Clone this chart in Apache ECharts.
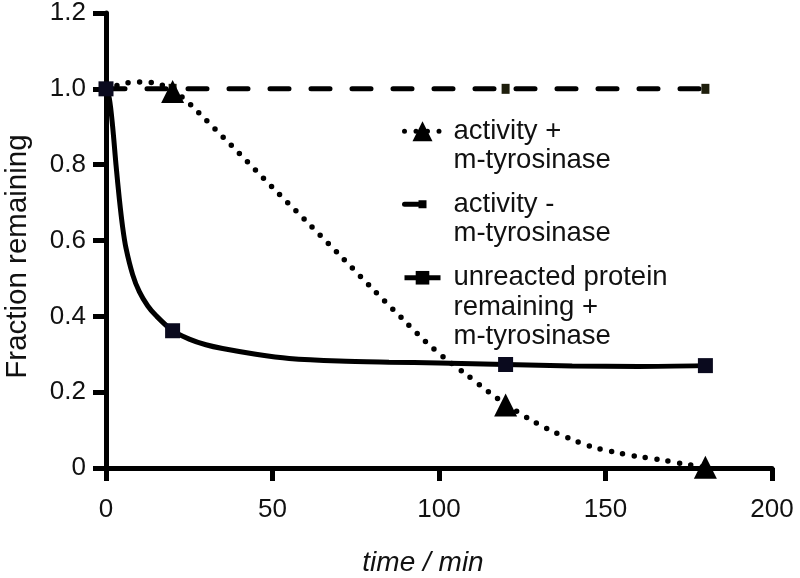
<!DOCTYPE html>
<html>
<head>
<meta charset="utf-8">
<script src="https://cdn.jsdelivr.net/npm/echarts@6/dist/echarts.min.js"></script>
<style>html,body{margin:0;padding:0;background:#fff;}#c{width:800px;height:578px;}</style>
</head>
<body>
<div id="c"></div>
<script>
// ---- data ----
const xTicks = [0, 50, 100, 150, 200];
const yTicks = [0, 0.2, 0.4, 0.6, 0.8, 1.0, 1.2];

const seriesNames = [
  'activity +\nm-tyrosinase',
  'activity -\nm-tyrosinase',
  'unreacted protein\nremaining +\nm-tyrosinase'
];

// measured points
const activityPlusPts = [[20, 0.993], [120, 0.166], [180, 0.002]];
const activityMinusPts = [[0, 1.0], [20, 1.0], [120, 1.0], [180, 1.0]];
const unreactedPts = [[0, 1.0], [20, 0.362], [120, 0.273], [180, 0.27]];

// fitted curves
const activityPlusCurve = [
  [0, 1.0], [3, 1.008], [6, 1.015], [10, 1.018], [14, 1.016], [17, 1.009],
  [20, 0.996], [23, 0.977], [26, 0.953], [30, 0.918], [40, 0.83], [50, 0.74],
  [60, 0.652], [70, 0.563], [80, 0.473], [90, 0.385], [96, 0.333], [102, 0.288],
  [108, 0.248], [115, 0.2], [120, 0.168], [127, 0.13], [133, 0.101], [140, 0.075],
  [146, 0.056], [153, 0.041], [160, 0.03], [167, 0.021], [174, 0.01], [180, 0.002]
];
const activityMinusCurve = [[0, 1.0], [180, 1.0]];
const unreactedCurve = [
  [0, 1.0], [1, 0.975], [2, 0.9], [3, 0.8], [4, 0.71], [5, 0.635], [6, 0.58],
  [8, 0.51], [10, 0.465], [12.5, 0.428], [15, 0.402], [20, 0.362], [25, 0.34],
  [30, 0.325], [35, 0.315], [45, 0.3], [55, 0.289], [70, 0.282], [85, 0.279],
  [100, 0.277], [120, 0.273], [140, 0.269], [160, 0.268], [180, 0.27]
];

// ---- chart ----
const FONT = '"Liberation Sans", Arial, sans-serif';
const chart = echarts.init(document.getElementById('c'), null, {renderer: 'canvas'});

function legendFor(name, top, iconH, blankLines) {
  return {
    data: [name],
    left: 402,
    top: top,
    padding: 0,
    itemWidth: 36,
    itemHeight: iconH,
    selectedMode: false,
    lineStyle: {width: 5},
    formatter: function (n) { return '\n'.repeat(blankLines) + n; },
    textStyle: {
      fontFamily: FONT, fontSize: 27.5, lineHeight: 29.5, color: '#111',
      padding: [0, 0, 0, 8]
    }
  };
}

const option = {
  backgroundColor: '#fff',
  animation: false,
  grid: {left: 106, right: 28, top: 13, bottom: 110, outerBoundsMode: 'none'},
  legend: [
    legendFor(seriesNames[0], 87, 25, 1),
    legendFor(seriesNames[1], 160, 10, 1),
    legendFor(seriesNames[2], 204, 17, 2)
  ],
  xAxis: {
    type: 'value', min: xTicks[0], max: xTicks[xTicks.length - 1], interval: 50,
    name: 'time / min', nameLocation: 'middle', nameGap: 81,
    nameTextStyle: {fontFamily: FONT, fontSize: 28, fontStyle: 'italic', color: '#111', padding: [0, 32, 0, 0]},
    axisLine: {onZero: false, lineStyle: {color: '#000', width: 5}},
    axisTick: {length: 13, lineStyle: {color: '#000', width: 5}},
    axisLabel: {fontFamily: FONT, fontSize: 26, color: '#111', margin: 29},
    splitLine: {show: false}
  },
  yAxis: {
    type: 'value', min: yTicks[0], max: yTicks[yTicks.length - 1], interval: 0.2,
    name: 'Fraction remaining', nameLocation: 'middle', nameGap: 73,
    nameTextStyle: {fontFamily: FONT, fontSize: 29.5, color: '#111', padding: [0, 32, 0, 0]},
    axisLine: {onZero: false, lineStyle: {color: '#000', width: 5}},
    axisTick: {length: 13, lineStyle: {color: '#000', width: 5}},
    axisLabel: {
      fontFamily: FONT, fontSize: 26, color: '#111', margin: 20,
      formatter: function (v) { return v === 0 ? '0' : v.toFixed(1); }
    },
    splitLine: {show: false}
  },
  series: [
    {
      name: seriesNames[0], type: 'line', data: activityPlusCurve, smooth: 0.3,
      symbol: 'triangle', showSymbol: false, color: '#000',
      lineStyle: {color: '#000', width: 5.5, type: [0, 11.5], cap: 'round'}, z: 2
    },
    {
      name: seriesNames[0], type: 'scatter', data: activityPlusPts,
      symbol: 'triangle', symbolSize: 23, itemStyle: {color: '#000', opacity: 1}, z: 5
    },
    {
      name: seriesNames[1], type: 'line', data: activityMinusCurve,
      symbol: 'rect', showSymbol: false, color: '#000',
      lineStyle: {color: '#000', width: 5, type: [19, 22], cap: 'round'}, z: 2
    },
    {
      name: seriesNames[1], type: 'scatter', data: activityMinusPts,
      symbol: 'rect', symbolSize: [8, 10], itemStyle: {color: '#1e1e0c', opacity: 1}, z: 4
    },
    {
      name: seriesNames[2], type: 'line', data: unreactedCurve, smooth: 0.3,
      symbol: 'rect', showSymbol: false, color: '#000',
      lineStyle: {color: '#000', width: 5}, z: 3
    },
    {
      name: seriesNames[2], type: 'scatter', data: unreactedPts,
      symbol: 'rect', symbolSize: 15, itemStyle: {color: '#0a0a1e', opacity: 1}, z: 6
    }
  ]
};
chart.setOption(option);
</script>
</body>
</html>
